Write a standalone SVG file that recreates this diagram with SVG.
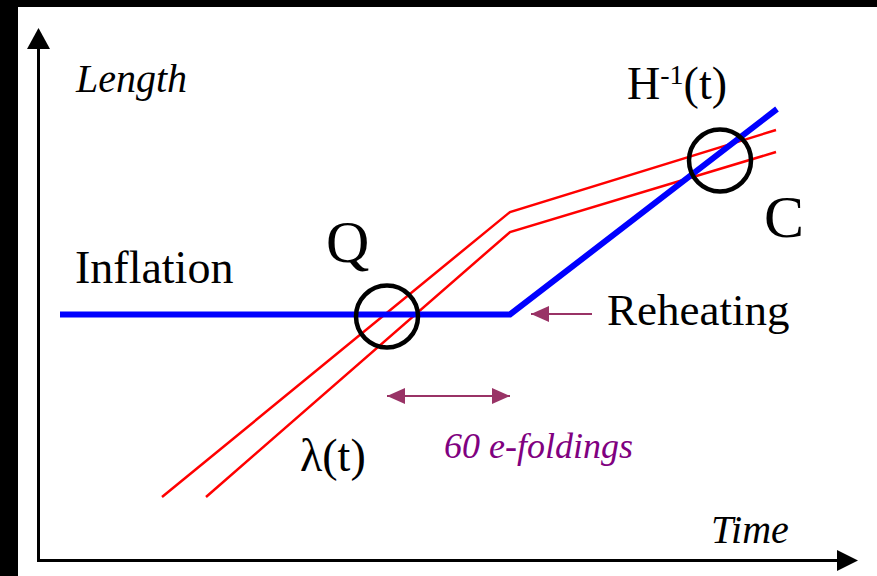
<svg xmlns="http://www.w3.org/2000/svg" width="877" height="576" viewBox="0 0 877 576">
  <style>
    text { font-family: 'Liberation Serif', 'Times New Roman', serif; fill: #000; }
    .it { font-style: italic; }
    .red { fill: none; stroke: #ff0000; stroke-width: 2.5; }
    .blue { fill: none; stroke: #0000ff; stroke-width: 6; }
    .ring { fill: none; stroke: #000; stroke-width: 4.5; }
    .axis { fill: none; stroke: #000; stroke-width: 3; }
    .parr { fill: none; stroke: #993366; stroke-width: 2; }
  </style>
  <defs>
    <marker id="ph" viewBox="0 0 18 16" refX="18" refY="8" markerWidth="18" markerHeight="16" markerUnits="userSpaceOnUse" orient="auto-start-reverse">
      <path d="M0,0 L18,8 L0,16 Z" fill="#993366"/>
    </marker>
  </defs>
  <rect x="0" y="0" width="877" height="576" fill="#fff"/>
  <rect x="0" y="0" width="18" height="576" fill="#000"/>
  <rect x="0" y="0" width="877" height="7" fill="#000"/>

  <g id="axes">
    <path class="axis" d="M38.5,49 V560.5 H837"/>
    <path d="M27,49 L38.5,28 L50,49 Z" fill="#000"/>
    <path d="M837,550 L858,560.5 L837,571 Z" fill="#000"/>
  </g>

  <g id="connectors">
    <polyline id="lambda1" class="red" points="162,497 510,212 776,130"/>
    <polyline id="lambda2" class="red" points="206,497 510,232 776,152"/>
    <polyline id="hubble" class="blue" points="60,314.5 510,314.5 777,109"/>
    <line id="reheat-arrow" class="parr" x1="592" y1="314" x2="531" y2="314" marker-end="url(#ph)"/>
    <line id="efold-arrow" class="parr" x1="387" y1="396" x2="510" y2="396" marker-start="url(#ph)" marker-end="url(#ph)"/>
  </g>

  <g id="Q-node">
    <circle class="ring" cx="387" cy="316.5" r="31"/>
    <text x="326" y="262" font-size="60">Q</text>
  </g>
  <g id="C-node">
    <circle class="ring" cx="720" cy="160.5" r="31"/>
    <text x="764" y="237" font-size="60">C</text>
  </g>

  <g id="labels">
    <text class="it" x="76" y="92" font-size="40">Length</text>
    <text x="627" y="99" font-size="46">H<tspan font-size="28" dy="-15">-1</tspan><tspan dy="15">(t)</tspan></text>
    <text x="75" y="283" font-size="46">Inflation</text>
    <text x="607" y="325" font-size="45">Reheating</text>
    <text x="300" y="471" font-size="46">λ(t)</text>
    <text class="it" x="444" y="458" font-size="36" style="fill:#800080">60 e-foldings</text>
    <text class="it" x="711" y="543" font-size="40">Time</text>
  </g>
</svg>
